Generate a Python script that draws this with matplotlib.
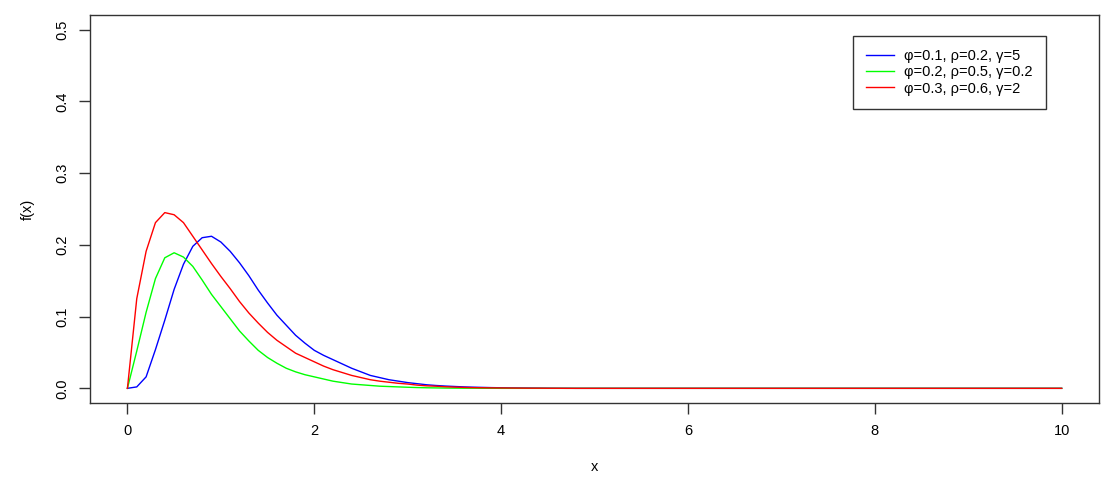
import numpy as np
import matplotlib
matplotlib.use("Agg")
import matplotlib.pyplot as plt

plt.rcParams['font.family'] = ['Liberation Sans', 'DejaVu Sans']

# grid x = 0, 0.1, ..., 10 (curve sampled every 0.1)
x = np.linspace(0, 10, 101)

f_azul = [0.000, 0.002, 0.016, 0.054, 0.095, 0.138, 0.173, 0.198, 0.210, 0.212,
          0.204, 0.191, 0.175, 0.157, 0.137, 0.119, 0.102, 0.088, 0.074, 0.063,
          0.053, 0.046, 0.040, 0.034, 0.028, 0.023, 0.018, 0.015, 0.012, 0.010,
          0.008, 0.0065, 0.005, 0.004, 0.0032, 0.0026, 0.002, 0.0016, 0.0013, 0.001,
          0.0008, 0.0006, 0.0005, 0.0004, 0.0003, 0.0002, 0.0001, 0.0001, 0.0, 0.0,
          0.0]
f_verde = [0.000, 0.052, 0.106, 0.153, 0.182, 0.189, 0.183, 0.170, 0.151, 0.131,
           0.114, 0.097, 0.080, 0.066, 0.053, 0.043, 0.035, 0.028, 0.023, 0.019,
           0.016, 0.013, 0.010, 0.008, 0.006, 0.005, 0.004, 0.003, 0.0025, 0.002,
           0.0015, 0.0011, 0.0008, 0.0006, 0.0004, 0.0003, 0.0002, 0.0002, 0.0001, 0.0001,
           0.0, 0.0, 0.0, 0.0, 0.0, 0.0, 0.0, 0.0, 0.0, 0.0,
           0.0]
f_rojo = [0.000, 0.125, 0.191, 0.231, 0.245, 0.242, 0.231, 0.212, 0.193, 0.174,
          0.156, 0.139, 0.121, 0.105, 0.091, 0.078, 0.067, 0.058, 0.049, 0.043,
          0.037, 0.031, 0.026, 0.022, 0.018, 0.015, 0.012, 0.010, 0.0085, 0.007,
          0.006, 0.0045, 0.0035, 0.003, 0.0022, 0.0017, 0.0013, 0.001, 0.0008, 0.0006,
          0.0005, 0.0004, 0.0003, 0.0002, 0.0002, 0.0001, 0.0001, 0.0, 0.0, 0.0,
          0.0]
cola = [0.0] * 50

etiquetas = ['φ=0.1, ρ=0.2, γ=5', 'φ=0.2, ρ=0.5, γ=0.2', 'φ=0.3, ρ=0.6, γ=2']
colores = ['#0000ff', '#00ff00', '#ff0000']

fig = plt.figure(figsize=(11.2, 4.95), dpi=100)
ax = fig.add_axes([0.0804, 0.1865, 0.9009, 0.7825])

for f, c, lab in zip([f_azul, f_verde, f_rojo], colores, etiquetas):
    ax.plot(x, f + cola, color=c, lw=1.0, label=lab)

ax.set_xlim(-0.4, 10.4)
ax.set_ylim(-0.02, 0.52)
ax.set_xticks([0, 2, 4, 6, 8, 10])
ax.set_yticks([0.0, 0.1, 0.2, 0.3, 0.4, 0.5])
ax.set_yticklabels(['0.0', '0.1', '0.2', '0.3', '0.4', '0.5'], rotation=90, va='center')
ax.tick_params(direction='out', length=8, width=1, color='#333333', labelsize=10.5, pad=7)
for s in ax.spines.values():
    s.set_color('#333333')
    s.set_linewidth(1)

ax.set_xlabel('x', fontsize=10.5, labelpad=16)
ax.set_ylabel('f(x)', fontsize=10.5, labelpad=15)

leg = ax.legend(loc='upper left', bbox_to_anchor=(0.756, 0.9466), borderaxespad=0,
                fancybox=False, edgecolor='black', fontsize=10.5, handlelength=1.9,
                labelspacing=0.15, borderpad=0.9, handletextpad=0.7)
leg.get_frame().set_linewidth(1)

fig.savefig('out.png', dpi=100)
